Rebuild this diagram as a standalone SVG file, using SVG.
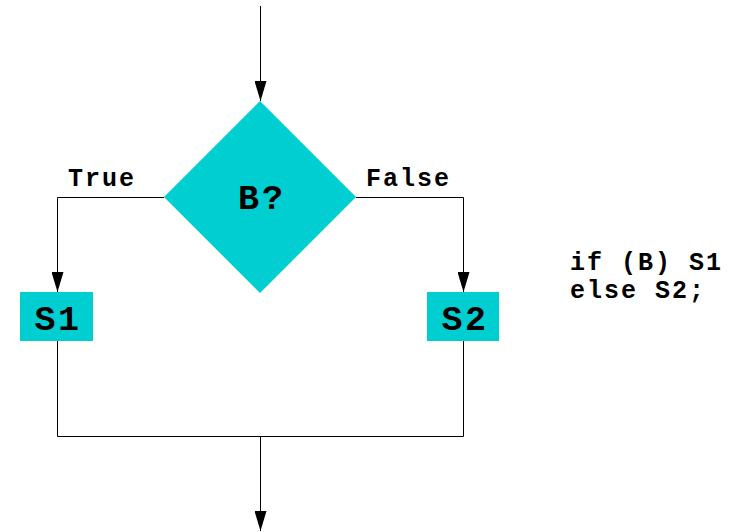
<svg xmlns="http://www.w3.org/2000/svg" width="742" height="532" viewBox="0 0 742 532">
  <style>
    .shape { fill: #00CED1; stroke: none; }
    .wire { fill: none; stroke: #000; stroke-width: 1; }
    .lbl { font-family: "Liberation Mono", "DejaVu Sans Mono", monospace; font-weight: bold; fill: #000; }
    .branch { font-size: 25px; letter-spacing: 2px; }
    .cond { font-size: 35px; letter-spacing: 3px; }
    .stmt { font-size: 35px; letter-spacing: 2.5px; }
    .code { font-size: 25px; letter-spacing: 2px; }
  </style>
  <defs>
    <marker id="arrow" markerUnits="userSpaceOnUse" markerWidth="20" markerHeight="12" refX="20" refY="6" orient="auto" viewBox="0 0 20 12">
      <path d="M0,0 L20,6 L0,12 Z" fill="#000"/>
    </marker>
  </defs>
  <rect width="742" height="532" fill="#fff"/>

  <g id="connectors">
    <line class="wire" x1="260.5" y1="6" x2="260.5" y2="101" marker-end="url(#arrow)"/>
    <polyline class="wire" points="164,197.5 57.5,197.5 57.5,292" marker-end="url(#arrow)"/>
    <polyline class="wire" points="356,197.5 463.5,197.5 463.5,292" marker-end="url(#arrow)"/>
    <polyline class="wire" points="57.5,341 57.5,436.5 463.5,436.5 463.5,341"/>
    <line class="wire" x1="260.5" y1="436.5" x2="260.5" y2="531" marker-end="url(#arrow)"/>
  </g>

  <g id="decision">
    <polygon class="shape" points="260,101 356,197 260,293 164,197"/>
    <text class="lbl cond" x="262" y="209" text-anchor="middle">B?</text>
  </g>

  <g id="label-true">
    <text class="lbl branch" x="68" y="186">True</text>
  </g>
  <g id="label-false">
    <text class="lbl branch" x="366" y="186">False</text>
  </g>

  <g id="s1">
    <rect class="shape" x="20" y="292" width="73" height="49"/>
    <text class="lbl stmt" x="58" y="330" text-anchor="middle">S1</text>
  </g>

  <g id="s2">
    <rect class="shape" x="427" y="292" width="72" height="49"/>
    <text class="lbl stmt" x="465" y="330" text-anchor="middle">S2</text>
  </g>

  <g id="code">
    <text class="lbl code" x="570" y="270">if (B) S1</text>
    <text class="lbl code" x="570" y="298">else S2;</text>
  </g>
</svg>
